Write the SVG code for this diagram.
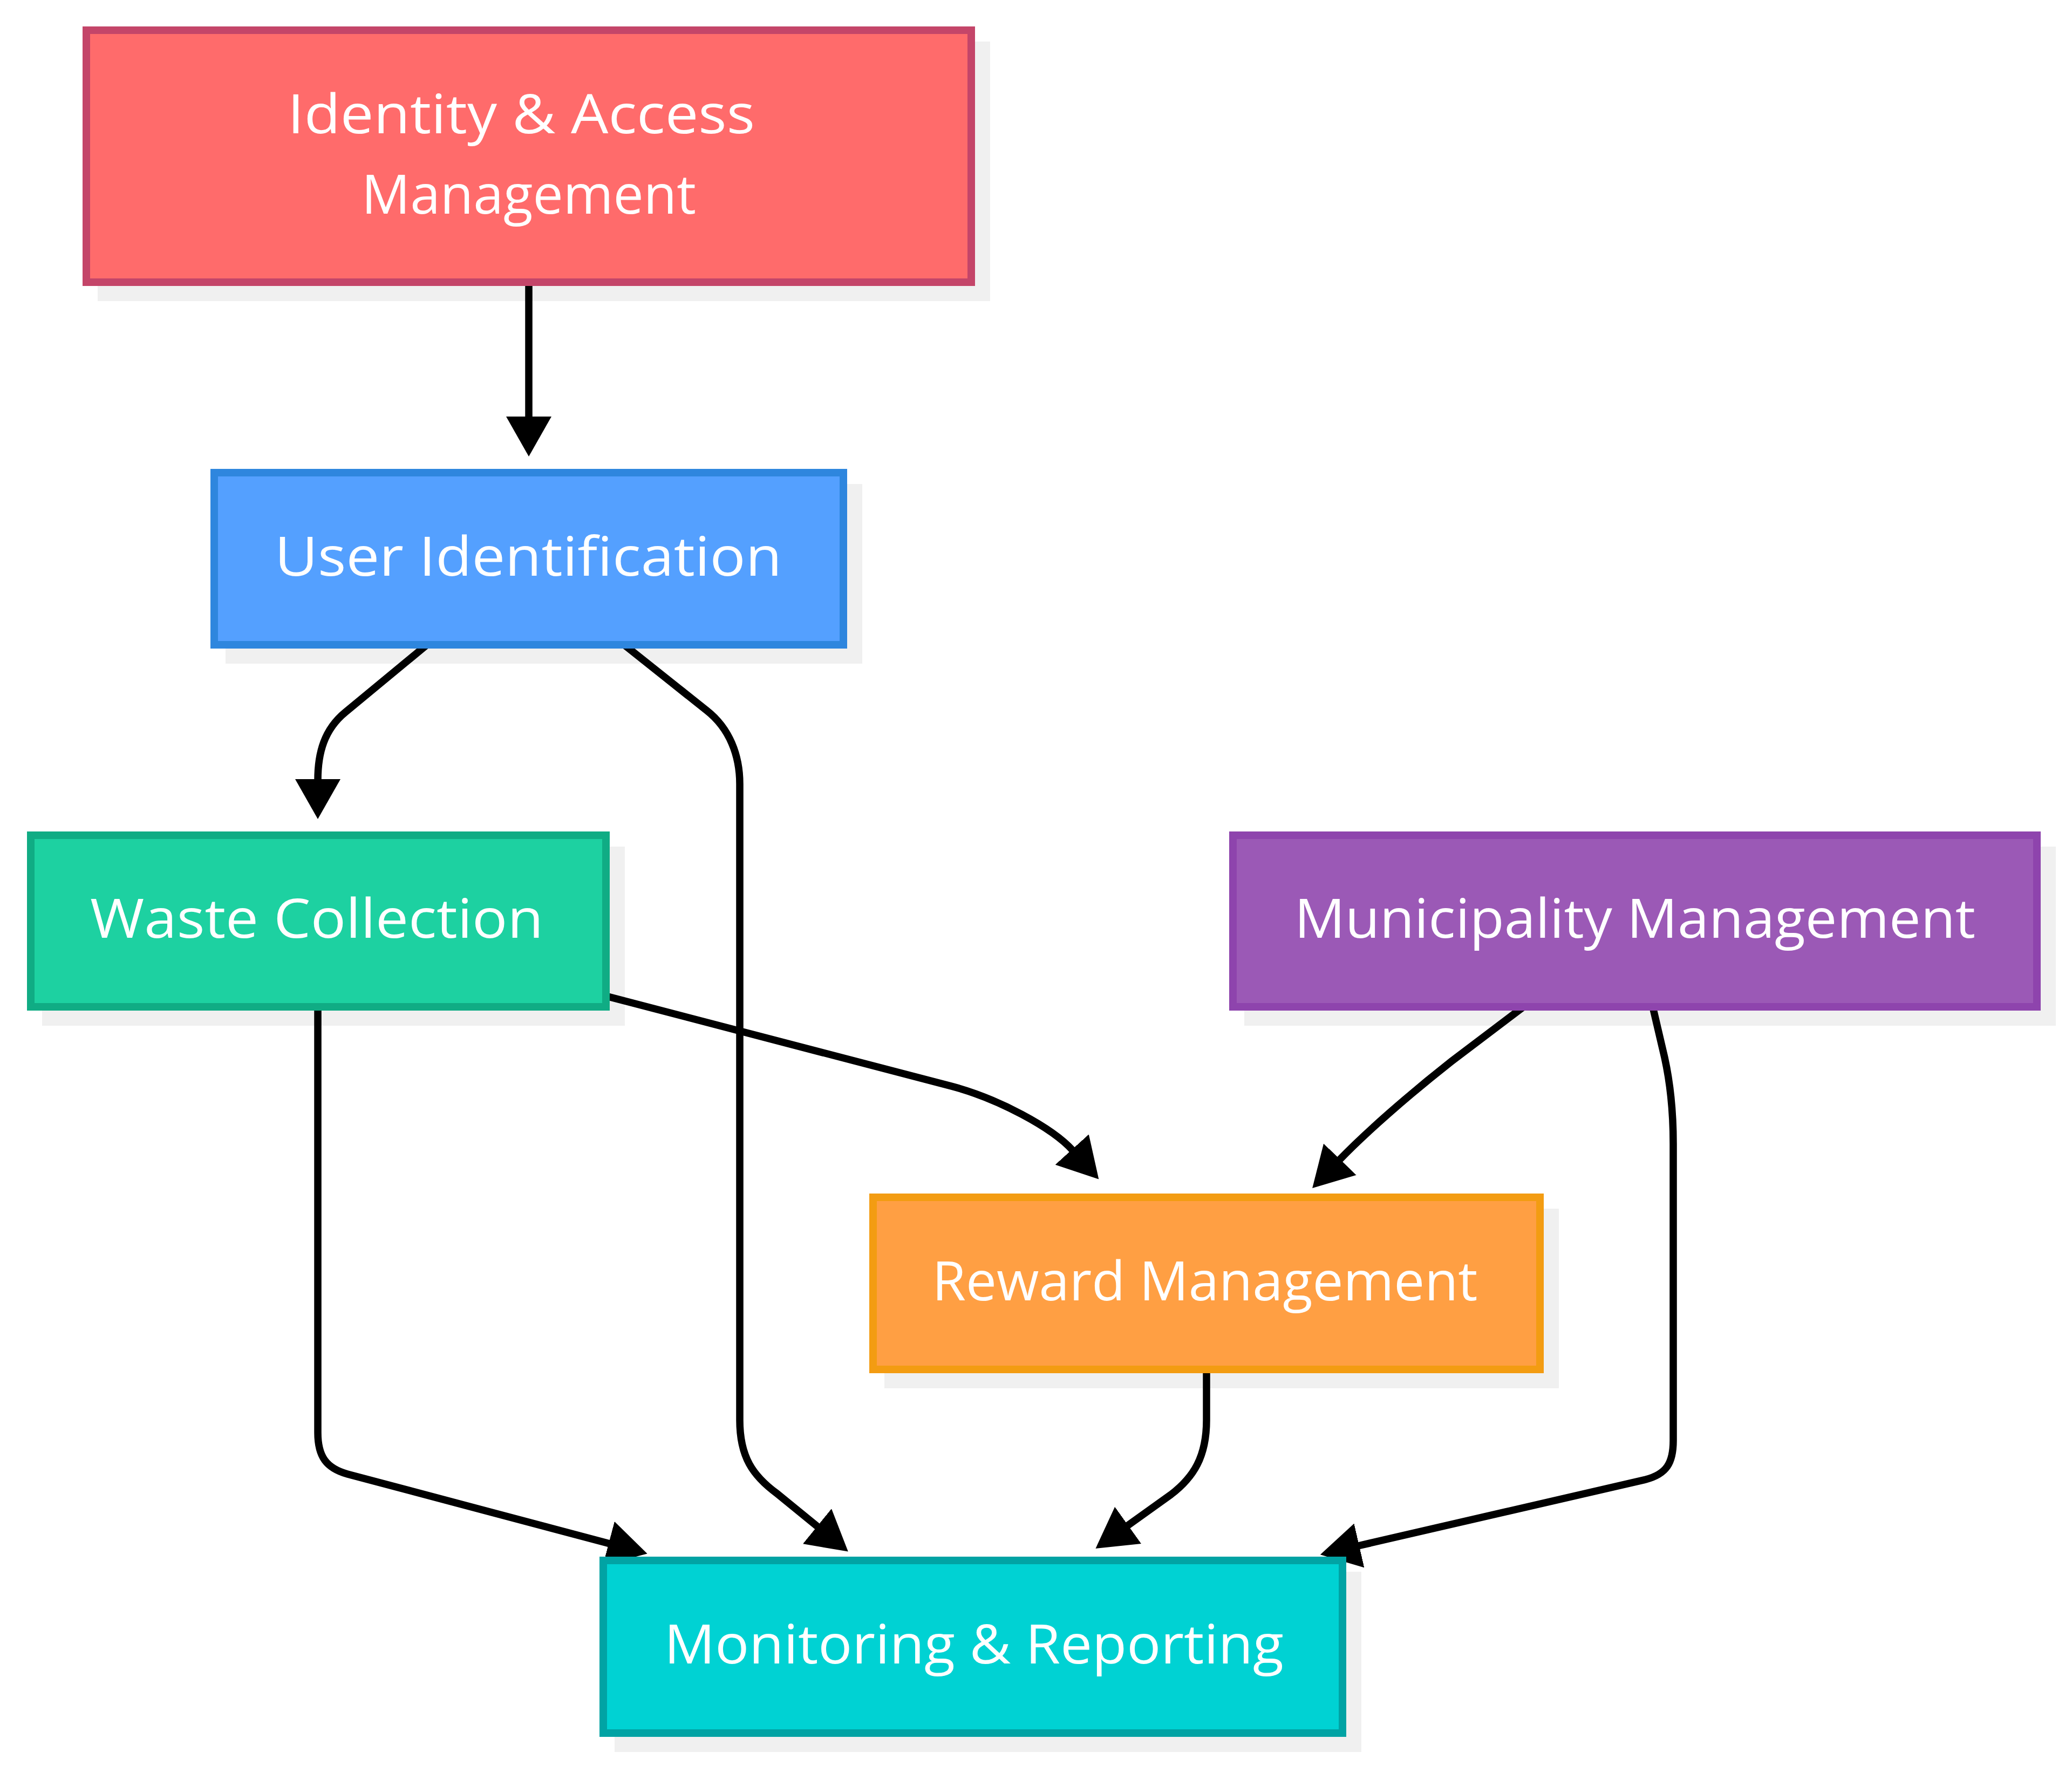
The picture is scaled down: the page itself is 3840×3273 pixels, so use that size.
<svg xmlns="http://www.w3.org/2000/svg" width="3840" height="3273" viewBox="0 0 3840 3273">
<style>
.shadow{fill:#f0f0f0;stroke:none}
.node rect{stroke-width:14}
.lbl{font-family:"Open Sans","Noto Sans","Liberation Sans",sans-serif;font-size:101px;fill:#ffffff;text-anchor:middle}
.edge{fill:none;stroke:#000000;stroke-width:13.5;stroke-linejoin:round}
</style>
<defs>
<marker id="arr" viewBox="0 0 74 84" refX="2" refY="42" markerWidth="74" markerHeight="84" markerUnits="userSpaceOnUse" orient="auto">
<path d="M0,0 L74,42 L0,84 z" fill="#000000"/>
</marker>
</defs>
<rect x="0" y="0" width="3840" height="3273" fill="#ffffff"/>
<g id="shadows">
<rect class="shadow" x="181" y="77" width="1654" height="481"/>
<rect class="shadow" x="418" y="897" width="1180" height="333"/>
<rect class="shadow" x="78" y="1569" width="1080" height="332"/>
<rect class="shadow" x="2306" y="1569" width="1504" height="332"/>
<rect class="shadow" x="1639" y="2240" width="1250" height="333"/>
<rect class="shadow" x="1139" y="2913" width="1384" height="334"/>
</g>
<g id="connectors">
<path class="edge" marker-end="url(#arr)" d="M980,525 L980,774"/>
<path class="edge" marker-end="url(#arr)" d="M790,1196 L640,1320 C601,1352 589,1395 589,1446"/>
<path class="edge" marker-end="url(#arr)" d="M1158,1196 L1310,1317 C1352,1350 1371,1400 1371,1453 L1371,2632 C1371,2700 1395,2735 1440,2768 L1516,2830"/>
<path class="edge" marker-end="url(#arr)" d="M1123,1846 L1763,2013 C1850,2036 1950,2090 1988,2132"/>
<path class="edge" marker-end="url(#arr)" d="M2822,1867 L2690,1967 C2610,2030 2530,2100 2482,2150"/>
<path class="edge" marker-end="url(#arr)" d="M3063,1866 L3085,1960 C3096,2010 3101,2060 3101,2120 L3101,2670 C3101,2712 3088,2732 3050,2742 L2517,2865"/>
<path class="edge" marker-end="url(#arr)" d="M589,1866 L589,2655 C589,2700 605,2721 644,2732 L1130,2861"/>
<path class="edge" marker-end="url(#arr)" d="M2236,2538 L2236,2632 C2236,2700 2212,2738 2170,2770 L2089,2828"/>
</g>
<g id="node-identity" class="node">
<rect x="160" y="56" width="1640" height="467" fill="#ff6b6b" stroke="#c44569"/>
<text class="lbl" x="966" y="247" textLength="866" lengthAdjust="spacingAndGlyphs">Identity &amp; Access</text>
<text class="lbl" x="980" y="396" textLength="620" lengthAdjust="spacingAndGlyphs">Management</text>
</g>
<g id="node-user" class="node">
<rect x="397" y="876" width="1166" height="319" fill="#54a0ff" stroke="#2e86de"/>
<text class="lbl" x="979" y="1067" textLength="940" lengthAdjust="spacingAndGlyphs">User Identification</text>
</g>
<g id="node-waste" class="node">
<rect x="57" y="1548" width="1066" height="318" fill="#1dd1a1" stroke="#10ac84"/>
<text class="lbl" x="587" y="1738" textLength="840" lengthAdjust="spacingAndGlyphs">Waste Collection</text>
</g>
<g id="node-municipality" class="node">
<rect x="2285" y="1548" width="1490" height="318" fill="#9b59b6" stroke="#8e44ad"/>
<text class="lbl" x="3030" y="1738" textLength="1262" lengthAdjust="spacingAndGlyphs">Municipality Management</text>
</g>
<g id="node-reward" class="node">
<rect x="1618" y="2219" width="1236" height="319" fill="#ff9f43" stroke="#f39c12"/>
<text class="lbl" x="2233" y="2410" textLength="1011" lengthAdjust="spacingAndGlyphs">Reward Management</text>
</g>
<g id="node-monitoring" class="node">
<rect x="1118" y="2892" width="1370" height="320" fill="#00d2d3" stroke="#01a3a4"/>
<text class="lbl" x="1805" y="3083" textLength="1148" lengthAdjust="spacingAndGlyphs">Monitoring &amp; Reporting</text>
</g>
</svg>
